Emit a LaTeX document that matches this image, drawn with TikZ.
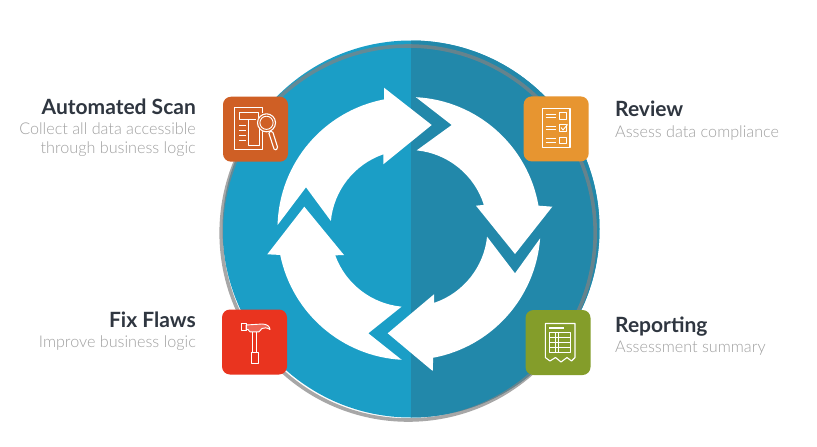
\documentclass[tikz,border=0pt]{standalone}
\usepackage{fontspec}
\setmainfont{Lato}
\newfontfamily\latolight{Lato Light}
\definecolor{leftblue}{HTML}{1B9EC6}
\definecolor{rightblue}{HTML}{2288AA}
\definecolor{rimgrey}{HTML}{828282}
\definecolor{titletext}{HTML}{2F3640}
\definecolor{subtext}{HTML}{A0A0A0}
\definecolor{tileorange}{HTML}{CF5F25}
\definecolor{tileamber}{HTML}{E79530}
\definecolor{tilered}{HTML}{E9341F}
\definecolor{tilegreen}{HTML}{849D2A}
\tikzset{
  tile/.style={rounded corners=8pt,minimum width=65pt,minimum height=65pt,inner sep=0pt,outer sep=0pt,draw=none},
  titlel/.style={anchor=base east,font=\bfseries\fontsize{21}{24}\selectfont,text=titletext,inner sep=0pt},
  titler/.style={anchor=base west,font=\bfseries\fontsize{21}{24}\selectfont,text=titletext,inner sep=0pt},
  subl/.style={anchor=base east,font=\latolight\fontsize{16.2}{20}\selectfont,text=subtext,inner sep=0pt},
  subr/.style={anchor=base west,font=\latolight\fontsize{16.2}{20}\selectfont,text=subtext,inner sep=0pt},
  icon/.style={draw=white,line width=1.1pt,line join=round},
  iconthin/.style={draw=white,line width=.9pt,line join=round},
  cyclearrow/.style={fill=white,draw=none}
}
\begin{document}
\begin{tikzpicture}[x=1pt,y=1pt,yscale=-1]
\useasboundingbox (0,0) rectangle (817,447);
\fill[white] (0,0) rectangle (817,447);
% disc
\fill[leftblue] (411,229) circle[radius=188.5];
\begin{scope}
  \clip (411,229) circle[radius=188.5];
  \fill[rightblue] (411,0) rectangle (620,447);
\end{scope}
\draw[rimgrey,opacity=.7,line width=3.6pt] (408.2,233) circle[radius=187];
% cycle arrows
\coordinate (c) at (409,228.5);
\fill[cyclearrow] ([shift={(181.5:131.5)}]c) arc[start angle=181.5,end angle=259.1,radius=131.5]
  -- (384,87.7) -- (431.7,125) -- (383.3,164.3)
  -- ([shift={(250.9:78.5)}]c) arc[start angle=250.9,end angle=185.5,radius=78.5]
  -- (306,187.3) -- cycle;
\fill[cyclearrow] ([shift={(273:131.5)}]c) arc[start angle=273,end angle=350,radius=131.5]
  -- (552.3,206.7) -- (515,254) -- (476,205.7)
  -- ([shift={(342.5:78.5)}]c) arc[start angle=342.5,end angle=275.6,radius=78.5]
  -- (451.7,125) -- cycle;
\fill[cyclearrow] ([shift={(4.3:131.5)}]c) arc[start angle=4.3,end angle=79.4,radius=131.5]
  -- (432.7,371) -- (387.7,333.3) -- (434,294.3)
  -- ([shift={(71.4:78.5)}]c) arc[start angle=71.4,end angle=6,radius=78.5]
  -- (515,273.3) -- cycle;
\fill[cyclearrow] ([shift={(93.2:131.5)}]c) arc[start angle=93.2,end angle=168.4,radius=131.5]
  -- (267.3,254.3) -- (304.3,206.7) -- (344,255)
  -- ([shift={(160:78.5)}]c) arc[start angle=160,end angle=95.4,radius=78.5]
  -- (368.3,333.3) -- cycle;
% tiles
\node[tile,fill=tileorange] (scan) at (255.5,129.2) {};
\node[tile,fill=tileamber] (review) at (556.2,128.9) {};
\node[tile,fill=tilered] (fix) at (254.5,342) {};
\node[tile,fill=tilegreen] (report) at (558,342.5) {};
% scan icon
\draw[icon] (262.3,113) -- (262.3,107.5) -- (234.5,107.5) -- (234.5,149.5) -- (262.3,149.5) -- (262.3,131);
\draw[iconthin] (239,112.5) -- (258,112.5) -- (258,118) (239,112.5) -- (239,119) -- (256,119);
\draw[iconthin] (248.5,119) -- (248.5,145) -- (259,145) -- (259,127);
\draw[iconthin] (239,125) -- (245.5,125) (239,130) -- (245.5,130) (239,135) -- (245.5,135) (239,140) -- (245.5,140);
\fill[tileorange] (266.5,122.8) circle[radius=9.3];
\draw[icon] (266.5,122.8) circle[radius=9];
\draw[iconthin] (266.5,122.8) circle[radius=6.6];
\draw[icon,rounded corners=1.5pt,fill=tileorange] (268.5,132) -- (272.5,131) -- (278,148.5) -- (274.5,150.5) -- cycle;
% review icon
\draw[icon] (542.5,108.5) rectangle (570,147.5);
\foreach \yy in {116,128,140.7}{
  \draw[iconthin] (545.7,\yy-1.8) -- (556,\yy-1.8) (545.7,\yy+1.8) -- (556,\yy+1.8);
  \draw[icon] (559.2,\yy-3.1) rectangle (566.5,\yy+3.1);
}
\draw[iconthin] (561,127.5) -- (563,130) -- (567.5,124.5);
% hammer icon
\draw[iconthin] (252.4,331.8) -- (252.4,352.4) (256.6,331.8) -- (256.6,352.4);
\draw[iconthin] (251.6,352.4) rectangle (258.2,363.2);
\draw[iconthin] (241,323.7) rectangle (246,330.6);
\draw[iconthin,fill=white,fill opacity=.25] (246,325) -- (262,324) .. controls (267,324) and (270,326.5) .. (270,329.5) .. controls (267,327.5) and (264,327.5) .. (262,328.5) -- (259,331.8) -- (250,331.8) -- (248,329.5) -- (246,329.5) -- cycle;
% report icon
\draw[icon] (545.3,323.5) -- (575,323.5) -- (575,357.5) -- (571.5,361) -- (567,357.5) -- (561,362) -- (555.5,357.5) -- (550,361) -- (545.3,357.5) -- cycle;
\draw[line width=1.6pt,white] (549,327.7) -- (564,327.7);
\draw[iconthin] (549.3,332.3) rectangle (570.7,352.7);
\draw[iconthin] (549.3,337.4) -- (570.7,337.4) (549.3,342.5) -- (570.7,342.5) (549.3,347.6) -- (570.7,347.6);
\draw[iconthin] (555.6,332.3) -- (555.6,352.7) (558,332.3) -- (558,352.7);
% labels
\node[titlel] (scant) at (196,114.5) {Automated Scan};
\node[subl] (scans1) at (196,134) {Collect all data accessible};
\node[subl] (scans2) at (196,153.5) {through business logic};
\node[titler] (reviewt) at (615,116.5) {Review};
\node[subr] (reviews) at (615,137) {Assess data compliance};
\node[titlel] (fixt) at (196,327) {Fix Flaws};
\node[subl] (fixs) at (196,347) {Improve business logic};
\node[titler] (reportt) at (615,332) {Reporting};
\node[subr] (reports) at (615,352) {Assessment summary};
\end{tikzpicture}
\end{document}
